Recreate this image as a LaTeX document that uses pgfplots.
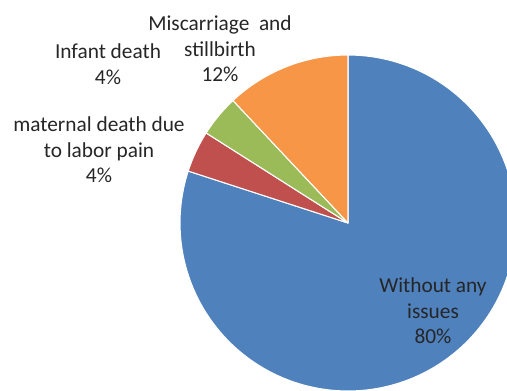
\documentclass[border=0pt]{standalone}
\usepackage{pgfplots}
\pgfplotsset{compat=1.18}
\usepackage{fontspec}
\setmainfont{Carlito}
\definecolor{cBlue}{HTML}{4F81BD}
\definecolor{cRed}{HTML}{C0504D}
\definecolor{cGreen}{HTML}{9BBB59}
\definecolor{cOrange}{HTML}{F79646}
\definecolor{cText}{HTML}{262626}
% slice values (percent), clockwise from 12 o'clock
\def\vWithout{80}
\def\vMaternal{4}
\def\vInfant{4}
\def\vMisc{12}
\def\cx{348}
\def\cy{167}
\def\rr{168}
\begin{document}
\begin{tikzpicture}
\pgfmathsetmacro{\aA}{90}
\pgfmathsetmacro{\aB}{\aA-3.6*\vWithout}
\pgfmathsetmacro{\aC}{\aB-3.6*\vMaternal}
\pgfmathsetmacro{\aD}{\aC-3.6*\vInfant}
\pgfmathsetmacro{\aE}{\aD-3.6*\vMisc}
\begin{axis}[
  scale only axis, width=380.25pt, height=292.5pt,
  xmin=0, xmax=507, ymin=0, ymax=390,
  hide axis, clip=true,
  every axis plot/.append style={draw=white, line width=0.8pt, line join=round},
  font=\fontsize{16}{19.2}\selectfont,
]
\addplot[fill=cBlue, domain=\aB:\aA, samples=150] ({\cx+\rr*cos(x)},{\cy+\rr*sin(x)}) -- (axis cs:\cx,\cy) -- cycle;
\addplot[fill=cRed, domain=\aC:\aB, samples=20] ({\cx+\rr*cos(x)},{\cy+\rr*sin(x)}) -- (axis cs:\cx,\cy) -- cycle;
\addplot[fill=cGreen, domain=\aD:\aC, samples=20] ({\cx+\rr*cos(x)},{\cy+\rr*sin(x)}) -- (axis cs:\cx,\cy) -- cycle;
\addplot[fill=cOrange, domain=\aE:\aD, samples=40] ({\cx+\rr*cos(x)},{\cy+\rr*sin(x)}) -- (axis cs:\cx,\cy) -- cycle;
\node[align=center, text=cText] at (axis cs:220,341) {Miscarriage\ \ and\\stillbirth\\12\%};
\node[align=center, text=cText] at (axis cs:108,326) {Infant death\\4\%};
\node[align=center, text=cText] at (axis cs:99,240) {maternal death due\\to labor pain\\4\%};
\node[align=center, text=cText] at (axis cs:433,79) {Without any\\issues\\80\%};
\end{axis}
\pgfresetboundingbox
\path (0,0) rectangle (380.25pt,292.5pt);
\end{tikzpicture}
\end{document}
